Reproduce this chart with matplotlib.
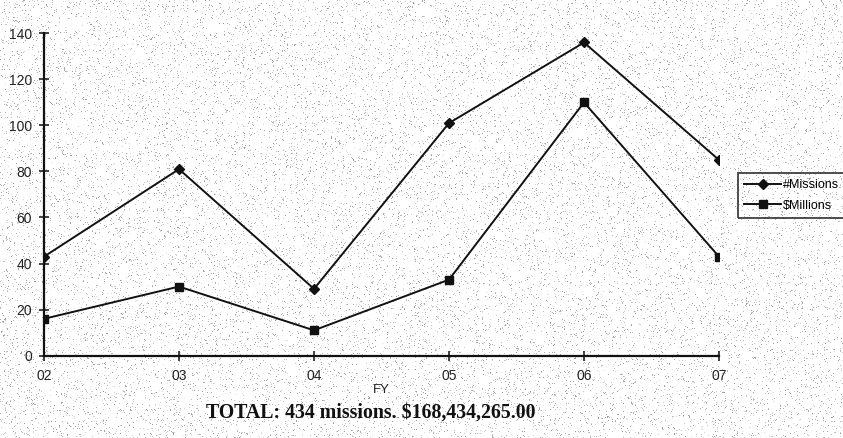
"""Missions per fiscal year with dollar totals, drawn as a line chart."""
import matplotlib
matplotlib.use("Agg")
import matplotlib.pyplot as plt
import numpy as np

fiscal_years = ["02", "03", "04", "05", "06", "07"]
missions = [43, 81, 29, 101, 136, 85]
millions = [16, 30, 11, 33, 110, 43]
y_ticks = [0, 20, 40, 60, 80, 100, 120, 140]

plt.rcParams["font.family"] = ["Liberation Sans", "DejaVu Sans"]

fig = plt.figure(figsize=(8.43, 4.38), dpi=100)
fig.patch.set_facecolor("white")

# light speckled paper texture in a full-figure background axes
bg = fig.add_axes([0, 0, 1, 1], zorder=-1)
rng = np.random.default_rng(7)
tex = np.ones((438, 843))
dots = rng.random((438, 843)) < 0.07
tex[dots] = 0.6 + 0.3 * rng.random(dots.sum())
bg.imshow(tex, cmap="gray", vmin=0, vmax=1, aspect="auto",
          interpolation="nearest")
bg.axis("off")

ax = fig.add_axes([0.0522, 0.188, 0.8007, 0.736], zorder=1)
ax.patch.set_alpha(0)

x = np.arange(len(fiscal_years))
ax.plot(x, missions, color="#111111", lw=1.4, marker="D", ms=5,
        label="#Missions", zorder=3)
ax.plot(x, millions, color="#111111", lw=1.4, marker="s", ms=6,
        label="$Millions", zorder=3)

ax.set_xlim(0, len(fiscal_years) - 1)
ax.set_ylim(0, 140)
ax.set_xticks(x)
ax.set_xticklabels(fiscal_years)
ax.set_yticks(y_ticks)
ax.tick_params(direction="inout", length=7, width=1.2, labelsize=10,
               colors="#222222")
ax.tick_params(axis="x", pad=6)
ax.tick_params(axis="y", pad=5)

for side in ("top", "right"):
    ax.spines[side].set_visible(False)
for side in ("left", "bottom"):
    ax.spines[side].set_linewidth(1.6)
    ax.spines[side].set_color("#111111")

ax.set_xlabel("FY", fontsize=9.5, labelpad=1, color="#222222")

leg = ax.legend(loc="center left", bbox_to_anchor=(0.875, 0.554),
                bbox_transform=fig.transFigure,
                fontsize=9, frameon=True, fancybox=False,
                handlelength=3.0, borderpad=0.5, labelspacing=0.7,
                handletextpad=0.1, borderaxespad=0)
leg.get_frame().set_edgecolor("#111111")
leg.get_frame().set_linewidth(1.3)
leg.get_frame().set_facecolor("none")

fig.text(0.44, 0.057, "TOTAL: 434 missions. $168,434,265.00",
         family=["Liberation Serif", "DejaVu Serif"], fontsize=14.3,
         fontweight="bold", ha="center", va="center", color="#111111")

fig.savefig("out.png", dpi=100)
